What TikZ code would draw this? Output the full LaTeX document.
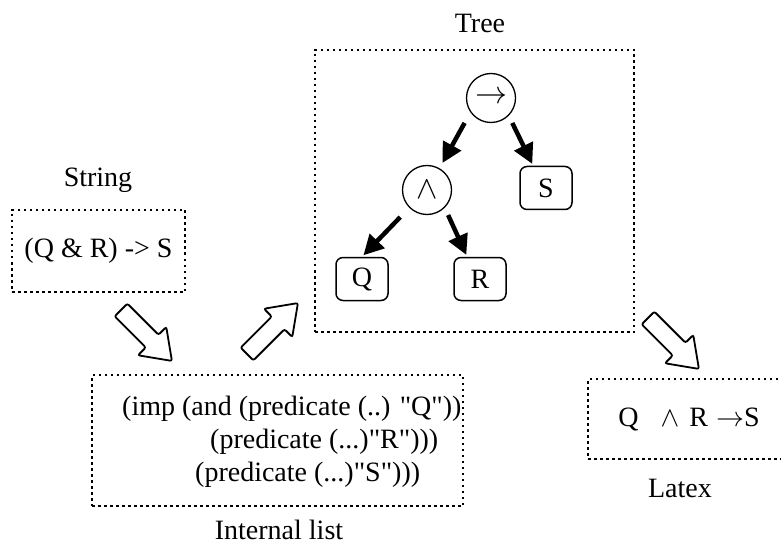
\RequirePackage{fix-cm}
\documentclass[tikz,border=0pt]{standalone}
\usepackage{fontspec}
\setmainfont{Liberation Serif}
\newcommand{\qt}{\textquotedbl}
\usetikzlibrary{arrows.meta}
\tikzset{
  txt/.style    = {font=\fontsize{28}{33}\selectfont, inner sep=0pt},
  dotbox/.style = {draw, line width=2pt, dash pattern=on 2.5pt off 3.5pt, txt},
  leaf/.style   = {draw, line width=1.5pt, rounded corners=7pt, txt,
                   minimum width=52pt, minimum height=43pt},
  op/.style     = {draw, circle, line width=1.3pt, inner sep=0pt,
                   minimum size=49pt, font=\fontsize{32}{36}\selectfont},
  tar/.style    = {-{Triangle[length=20pt,width=20pt]}, line width=4.5pt,
                   shorten <=8pt, shorten >=2pt},
  blockarrow/.pic = {
    \draw[line width=1.8pt, fill=white, rounded corners=2pt]
      (0,-9) -- (44,-9) -- (44,-20) -- (72,0) -- (44,20) -- (44,9) -- (0,9) -- cycle;
  },
}

\begin{document}
\begin{tikzpicture}[x=1pt, y=-1pt]
  \useasboundingbox (0,0) rectangle (781,545);
  \node[txt] (strlbl) at (98,180) {String};
  \node[dotbox, minimum width=173pt, minimum height=82pt] (strbox) at (98.5,251) {(Q \& R) -> S};

  \node[dotbox, minimum width=371pt, minimum height=131pt] (listbox) at (277.5,440.5) {};
  \node[txt, anchor=west, align=left] (listtxt) at (122,442)
    {(imp (and (predicate (..) \qt Q\qt))\\ \hspace*{88pt}(predicate (...)\qt R\qt)))\\ \hspace*{73pt}(predicate (...)\qt S\qt)))};
  \node[txt] (listlbl) at (279,530) {Internal list};

  \node[txt] (treelbl) at (480,23) {Tree};
  \node[dotbox, minimum width=319pt, minimum height=282pt] (treebox) at (474.5,191) {};
  \node[op]   (root)  at (491,98)  {$\rightarrow$};
  \node[op]   (andop) at (427,190) {$\wedge$};
  \node[leaf] (sleaf) at (546,188) {S};
  \node[leaf] (qleaf) at (362,279) {Q};
  \node[leaf] (rleaf) at (480,279) {R};
  \draw[tar, shorten <=12pt, shorten >=6pt] (root.215) -- (andop.60);
  \draw[tar] (root.south east) -- (sleaf.120);
  \draw[tar, shorten <=13pt] (andop.south west) -- (qleaf.north);
  \draw[tar] (andop.south east) -- (rleaf.120);

  \node[dotbox, minimum width=202pt, minimum height=80pt] (texbox) at (689,419)
    {Q\hspace{22pt}$\wedge$\hspace{10pt}R\hspace{8pt}$\rightarrow$S};
  \node[txt] (texlbl) at (680,488) {Latex};

  \pic[rotate=-45] (arrone)   at (121,310) {blockarrow};
  \pic[rotate=45]  (arrtwo)   at (247,354) {blockarrow};
  \pic[rotate=-45] (arrthree) at (648,318) {blockarrow};
\end{tikzpicture}
\end{document}
